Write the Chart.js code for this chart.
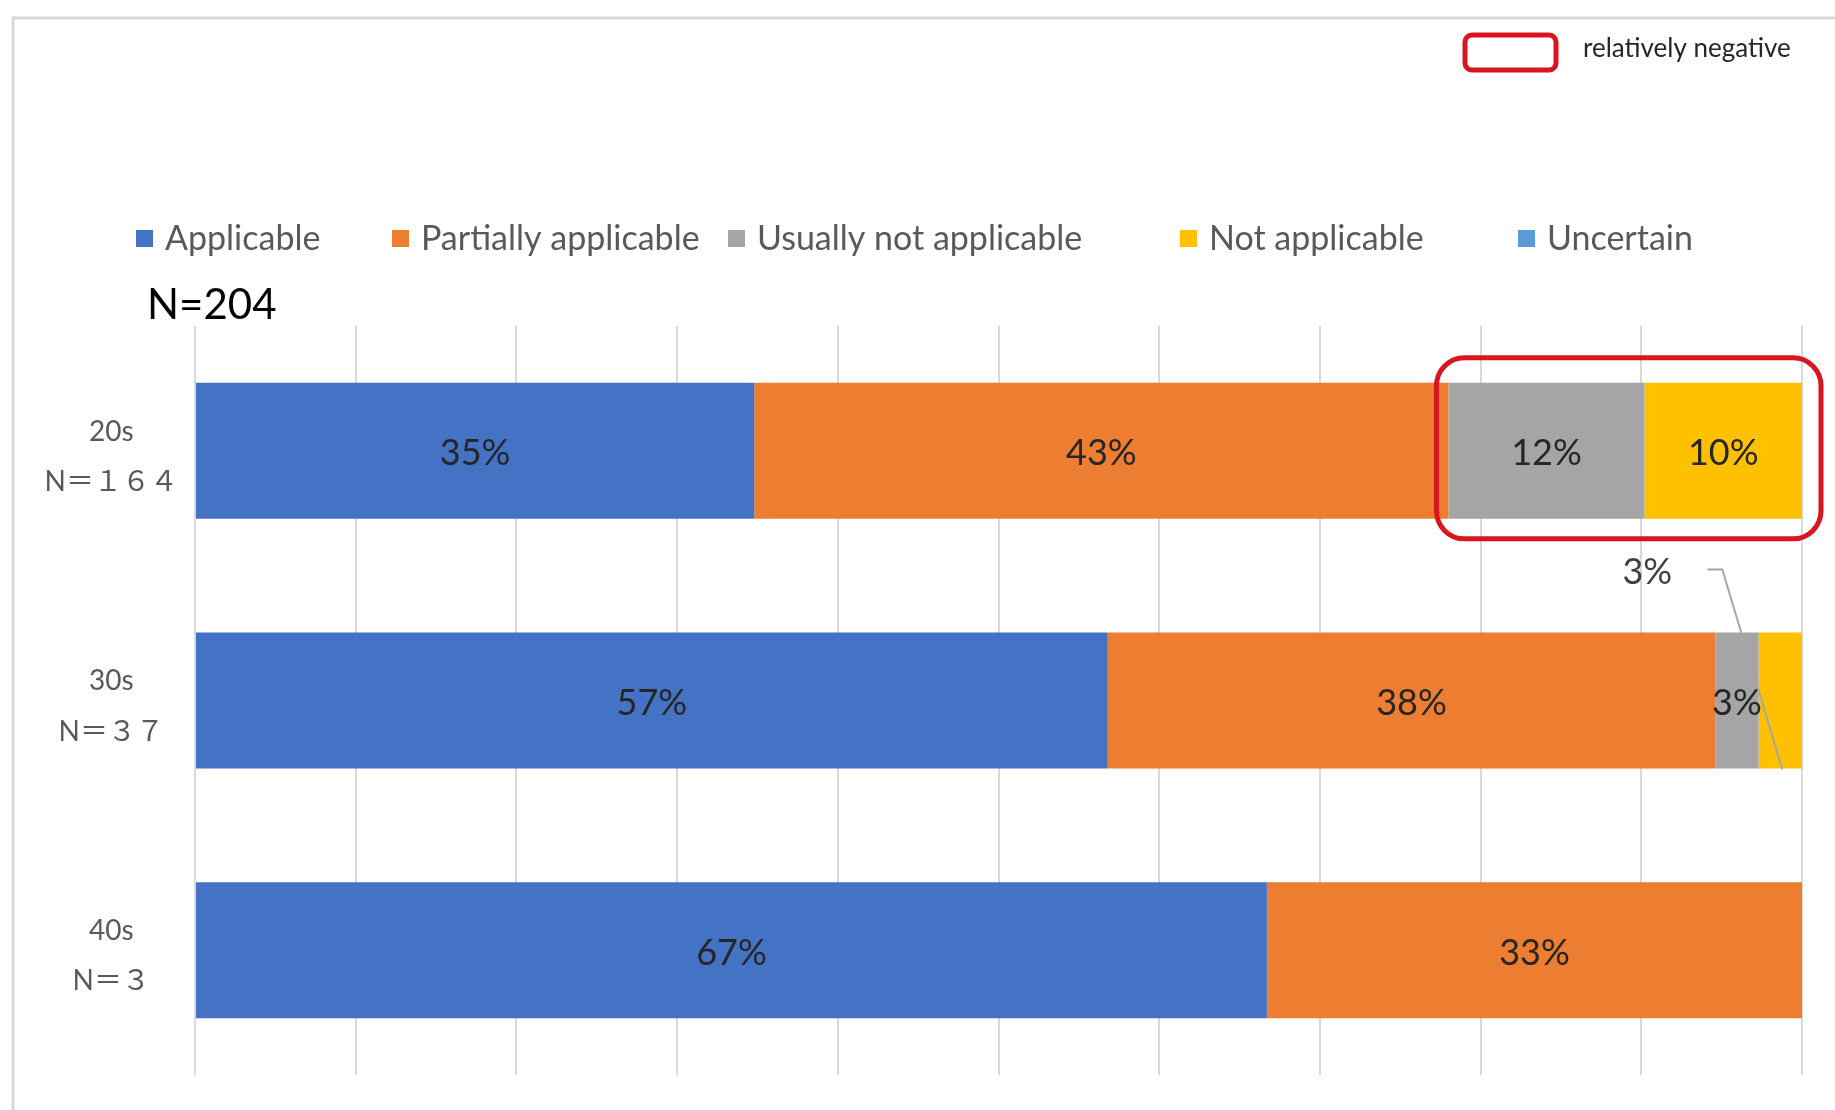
<!DOCTYPE html>
<html>
<head>
<meta charset="utf-8">
<script src="https://cdn.jsdelivr.net/npm/chart.js@4.4.1/dist/chart.umd.min.js"></script>
<style>
  html, body { margin: 0; padding: 0; background: #fff; }
  #wrap { position: relative; width: 1835px; height: 1110px; }
</style>
</head>
<body>
<div id="wrap"><canvas id="chart"></canvas></div>
<script>
// Data (percent of each age group)
const ageGroups = ['20s', '30s', '40s'];
const sampleSizes = ['N＝１６４', 'N＝３７', 'N＝３'];
const seriesNames = ['Applicable', 'Partially applicable', 'Usually not applicable', 'Not applicable', 'Uncertain'];
const applicable = [34.8, 56.8, 66.7];
const partiallyApplicable = [43.2, 37.8, 33.3];
const usuallyNotApplicable = [12.2, 2.7, 0];
const notApplicable = [9.8, 2.7, 0];
const uncertain = [0, 0, 0];
const xTicks = [0, 10, 20, 30, 40, 50, 60, 70, 80, 90, 100]; // grid only, labels hidden
const totalLabel = 'N=204';
const highlightLabel = 'relatively negative';

const seriesColors = ['#4472C4', '#ED7D31', '#A5A5A5', '#FFC000', '#5B9BD5'];
const seriesValues = [applicable, partiallyApplicable, usuallyNotApplicable, notApplicable, uncertain];

// legend item x positions (layout only)
const legendX = [136, 392, 728, 1180, 1518];
const FONT = 'Lato, "Noto Sans CJK JP", sans-serif';

const datasets = seriesNames.map((name, i) => ({
    label: name,
    data: seriesValues[i],
    backgroundColor: seriesColors[i],
    borderWidth: 0,
    barPercentage: 0.545,
    categoryPercentage: 1
}));

const overlayPlugin = {
    id: 'overlay',
    beforeDraw(chart) {
        const ctx = chart.ctx;
        ctx.save();
        // light frame around the chart
        ctx.strokeStyle = '#d9d9d9';
        ctx.lineWidth = 3;
        ctx.beginPath();
        ctx.moveTo(13, 1110);
        ctx.lineTo(13, 18);
        ctx.lineTo(1835, 18);
        ctx.stroke();
        ctx.restore();
    },
    afterDatasetsDraw(chart) {
        const ctx = chart.ctx;
        ctx.save();
        ctx.textAlign = 'center';
        ctx.textBaseline = 'middle';
        ctx.font = '36px ' + FONT;

        chart.data.datasets.forEach((ds, di) => {
            const meta = chart.getDatasetMeta(di);
            meta.data.forEach((bar, i) => {
                const v = ds.data[i];
                if (!v) return;
                const p = bar.getProps(['x', 'y', 'base', 'height'], true);
                const text = Math.round(v) + '%';
                const cx = (p.x + p.base) / 2;
                if (di === 3 && i === 1) {
                    // small segment: label sits above with a leader line
                    const lx = cx - 133, ly = p.y - p.height / 2 - 60;
                    ctx.fillStyle = '#404040';
                    ctx.fillText(text, lx, ly);
                    ctx.strokeStyle = '#a6a6a6';
                    ctx.lineWidth = 2;
                    ctx.beginPath();
                    ctx.moveTo(lx + 60, ly - 3);
                    ctx.lineTo(lx + 75, ly - 3);
                    ctx.lineTo(cx + 2, p.y + p.height / 2 + 1);
                    ctx.stroke();
                } else {
                    ctx.fillStyle = '#262626';
                    ctx.fillText(text, cx, p.y + 3);
                }
            });
        });

        // red box round the negative answers of the 20s
        const g = chart.getDatasetMeta(2).data[0].getProps(['x', 'y', 'base', 'height'], true);
        const n = chart.getDatasetMeta(3).data[0].getProps(['x', 'y', 'base', 'height'], true);
        ctx.strokeStyle = '#d9161e';
        ctx.lineWidth = 5;
        ctx.beginPath();
        ctx.roundRect(g.base - 12, g.y - g.height / 2 - 25, (n.x + 19) - (g.base - 12), g.height + 45, 28);
        ctx.stroke();
        ctx.restore();
    },
    afterDraw(chart) {
        const ctx = chart.ctx;
        ctx.save();
        // legend
        ctx.font = '34px ' + FONT;
        ctx.textBaseline = 'alphabetic';
        ctx.textAlign = 'left';
        chart.data.datasets.forEach((ds, i) => {
            const x = legendX[i];
            ctx.fillStyle = ds.backgroundColor;
            ctx.fillRect(x, 230, 17, 17);
            ctx.fillStyle = '#595959';
            ctx.fillText(ds.label, x + 29, 250);
        });
        // total
        ctx.fillStyle = '#000';
        ctx.font = '42px ' + FONT;
        ctx.fillText(totalLabel, 147, 319);
        // key for the red box
        ctx.strokeStyle = '#d9161e';
        ctx.lineWidth = 5;
        ctx.beginPath();
        ctx.roundRect(1465, 35, 91, 35, 7);
        ctx.stroke();
        ctx.fillStyle = '#262626';
        ctx.font = '26px ' + FONT;
        ctx.fillText(highlightLabel, 1583, 57);
        ctx.restore();
    }
};

new Chart(document.getElementById('chart'), {
    type: 'bar',
    data: {
        labels: ageGroups.map((a, i) => [a, sampleSizes[i]]),
        datasets: datasets
    },
    options: {
        indexAxis: 'y',
        responsive: true,
        maintainAspectRatio: false,
        animation: false,
        layout: { padding: { top: 326, right: 33, bottom: 35, left: 10 } },
        plugins: {
            legend: { display: false },
            tooltip: { enabled: false },
            title: { display: false }
        },
        scales: {
            x: {
                stacked: true,
                min: 0,
                max: 100,
                afterBuildTicks(scale) {
                    scale.ticks = xTicks.map(v => ({ value: v }));
                },
                ticks: { display: false },
                grid: { color: '#d9d9d9', lineWidth: 2, drawTicks: false },
                border: { display: false }
            },
            y: {
                stacked: true,
                afterFit(scale) {
                    scale.width = 185;
                    scale.paddingTop = 0;
                    scale.paddingBottom = 0;
                },
                ticks: {
                    crossAlign: 'center',
                    padding: 9,
                    labelOffset: 6,
                    color: '#595959',
                    font: { family: FONT, size: 28, lineHeight: 1.8 }
                },
                grid: { display: false },
                border: { display: false }
            }
        }
    },
    plugins: [overlayPlugin]
});
</script>
</body>
</html>
